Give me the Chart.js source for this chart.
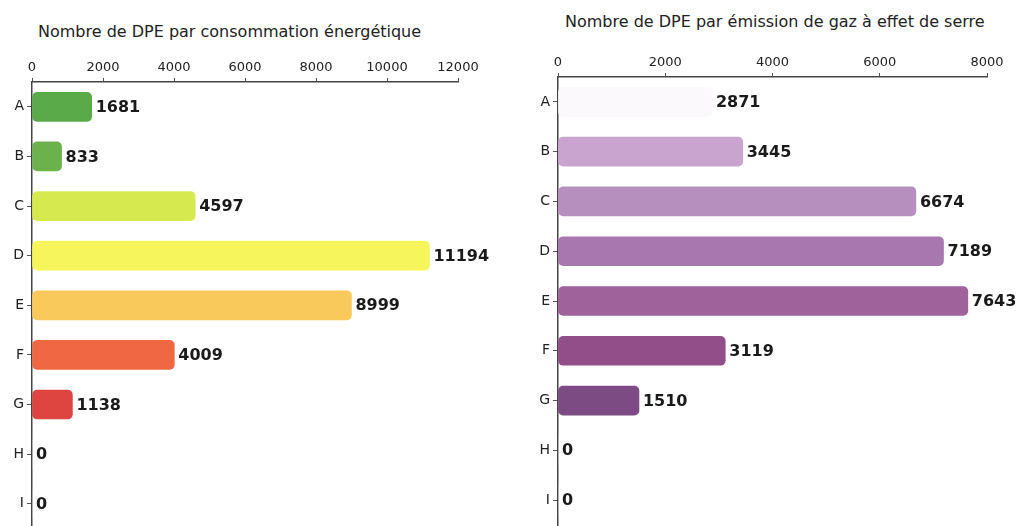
<!DOCTYPE html>
<html lang="fr">
<head>
<meta charset="UTF-8">
<title>DPE</title>
<script src="https://cdn.jsdelivr.net/npm/chart.js"></script>
<style>
  html, body { margin: 0; padding: 0; overflow: hidden; background: #fff; }
  body { width: 1017px; height: 526px; position: relative; font-family: "DejaVu Sans", sans-serif; }
  .box { position: absolute; top: 0; height: 540px; }
  .titre { position: absolute; font-size: 16px; color: #222; white-space: nowrap; }
</style>
</head>
<body>
  <div class="titre" style="left:38px; top:22px;">Nombre de DPE par consommation énergétique</div>
  <div class="titre" style="left:565px; top:12px;">Nombre de DPE par émission de gaz à effet de serre</div>
  <div class="box" style="left:0; width:510px;"><canvas id="chartConso"></canvas></div>
  <div class="box" style="left:520px; width:497px;"><canvas id="chartGes"></canvas></div>

<script>
// classes energetiques
const classes = ['A', 'B', 'C', 'D', 'E', 'F', 'G', 'H', 'I'];

// consommation energetique
const valeursConso = [1681, 833, 4597, 11194, 8999, 4009, 1138, 0, 0];
const couleursConso = ['#5aaa4a', '#6cb24c', '#d6ea50', '#f6f65c', '#fac95c', '#f06744', '#df4540', '#cccccc', '#cccccc'];
const ticksConso = [0, 2000, 4000, 6000, 8000, 10000, 12000];

// emission de gaz a effet de serre
const valeursGes = [2871, 3445, 6674, 7189, 7643, 3119, 1510, 0, 0];
const couleursGes = ['#fcf9fc', '#c9a4cf', '#b78fbe', '#a877b0', '#a0629a', '#924e89', '#7c4b83', '#cccccc', '#cccccc'];
const ticksGes = [0, 2000, 4000, 6000, 8000];

// valeurs a droite des barres
const etiquettes = {
  id: 'etiquettes',
  afterDatasetsDraw(chart) {
    const ctx = chart.ctx;
    const meta = chart.getDatasetMeta(0);
    ctx.save();
    ctx.font = 'bold 16px "DejaVu Sans"';
    ctx.fillStyle = '#1a1a1a';
    ctx.textBaseline = 'middle';
    meta.data.forEach((bar, i) => {
      ctx.fillText(chart.data.datasets[0].data[i], bar.x + 4, bar.y + 1);
    });
    ctx.restore();
  }
};

function creerGraphe(id, valeurs, couleurs, graduations, largeurY, padding) {
  const ctx = document.getElementById(id).getContext('2d');
  return new Chart(ctx, {
    type: 'bar',
    data: {
      labels: classes,
      datasets: [{
        data: valeurs,
        backgroundColor: couleurs,
        borderRadius: 5,
        borderSkipped: false,
        barThickness: 29
      }]
    },
    options: {
      indexAxis: 'y',
      responsive: true,
      maintainAspectRatio: false,
      animation: false,
      layout: { padding: padding },
      plugins: {
        legend: { display: false },
        tooltip: { enabled: false }
      },
      scales: {
        x: {
          position: 'top',
          min: 0,
          max: graduations[graduations.length - 1],
          afterBuildTicks: (scale) => { scale.ticks = graduations.map(v => ({ value: v })); },
          afterFit: (scale) => { scale.height = 30; },
          grid: { drawOnChartArea: false, tickLength: 4, color: '#555' },
          border: { color: '#444', width: 1.5 },
          ticks: {
            color: '#222', padding: 3,
            font: { family: 'DejaVu Sans', size: 13 },
            callback: (v) => String(v)
          }
        },
        y: {
          afterFit: (scale) => { scale.width = largeurY; },
          grid: { drawOnChartArea: false, offset: false, tickLength: 5, color: '#555' },
          border: { color: '#444', width: 1.5 },
          ticks: { color: '#222', padding: 3, font: { family: 'DejaVu Sans', size: 14 } }
        }
      }
    },
    plugins: [etiquettes]
  });
}

creerGraphe('chartConso', valeursConso, couleursConso, ticksConso, 32, { top: 52, right: 52, bottom: 10, left: 0 });
creerGraphe('chartGes', valeursGes, couleursGes, ticksGes, 38, { top: 47, right: 30, bottom: 15, left: 0 });
</script>
</body>
</html>
